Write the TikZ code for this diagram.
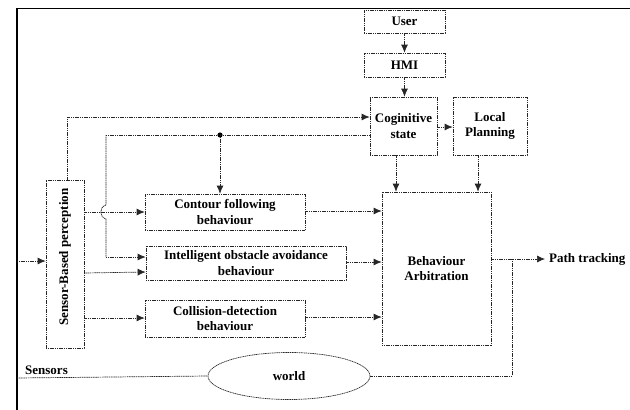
\documentclass[tikz,border=0pt]{standalone}
\usepackage{fontspec}
\setmainfont{Liberation Serif}
\usetikzlibrary{arrows.meta,shapes.geometric,calc}
\tikzset{
  ln/.style={line width=0.7pt, dash pattern=on 1.2pt off 0.6pt, draw=black!85},
  arr/.style={ln, -{Latex[length=8pt,width=7pt]}},
  box/.style={ln, rectangle, inner sep=1pt, align=center, font=\fontsize{13}{15.5}\selectfont\bfseries},
  lbl/.style={inner sep=1pt, font=\fontsize{13}{15.5}\selectfont\bfseries}
}
\begin{document}
\begin{tikzpicture}[x=1pt,y=-1pt]
\useasboundingbox (0,0) rectangle (630,410);
% frame
\draw[line width=1.8pt] (17,410) -- (17,8.5) -- (630,8.5);
% boxes
\node[box, minimum width=81pt, minimum height=23pt] (user) at (404.5,21.5) {User};
\node[box, minimum width=81pt, minimum height=24pt] (hmi) at (404.5,65) {HMI};
\node[box, minimum width=67pt, minimum height=58pt] (cog) at (403.5,126) {Coginitive\\state};
\node[box, minimum width=74pt, minimum height=58pt] (loc) at (490,126) {Local\\Planning};
\node[box, minimum width=109pt, minimum height=153pt] (arb) at (436.5,268.5) {Behaviour\\Arbitration};
\node[box, minimum width=38pt, minimum height=168pt] (sbp) at (65,264) {};
\node[lbl, rotate=90] (sbpt) at ([yshift=7pt]sbp.center) {Sensor-Based perception};
\node[box, minimum width=160pt, minimum height=36pt] (con) at (225,212) {Contour following\\behaviour};
\node[box, minimum width=200pt, minimum height=34pt] (ioa) at (246,263) {Intelligent obstacle avoidance\\behaviour};
\node[box, minimum width=160pt, minimum height=37pt] (col) at (225,318.5) {Collision-detection\\behaviour};
\node[ln, ellipse, minimum width=162pt, minimum height=47pt, inner sep=0pt, font=\fontsize{13}{15.5}\selectfont\bfseries] (world) at (289,376) {world};
% coordinates
\coordinate (c396) at (396,0);
\coordinate (c478) at (478,0);
\coordinate (j0) at (106,135);
\coordinate (dot) at (220,135);
\coordinate (h1) at (106,205);
\coordinate (h2) at (106,219);
\coordinate (j1) at (106,257);
\coordinate (in) at (17,261);
\coordinate (s0) at (17,378);
\coordinate (pt) at (545,259);
\coordinate (wr) at (512,259);
% top chain
\draw[arr] (user.south) -- (hmi.north);
\draw[arr] (hmi.south) -- (hmi.south |- cog.north);
\draw[arr] ([yshift=-1pt]cog.east) -- ([yshift=-1pt]loc.west);
\draw[arr] (c396 |- cog.south) -- (c396 |- arb.north);
\draw[arr] (c478 |- loc.south) -- (c478 |- arb.north);
% sensor perception to cognitive
\draw[arr] ([xshift=2pt]sbp.north) |- ([yshift=9pt]cog.west);
\draw[ln] (j0) -- (cog.west |- j0);
\fill (dot) circle (2.6pt);
\draw[arr] (dot) -- (dot |- con.north);
\draw[ln] (j0) -- (h1) .. controls (99,207) and (99,217) .. (h2) -- (j1);
\draw[arr] (j1) -- (ioa.west |- j1);
% perception to behaviours
\draw[arr] (sbp.east |- con.west) -- (con.west);
\draw[arr] ([yshift=-9pt]sbp.east) -- ([yshift=-9pt]ioa.west);
\draw[arr] ([yshift=-54pt]sbp.east) -- ([yshift=-54pt]sbp.east -| col.west);
% behaviours to arbitration
\draw[arr] ([yshift=1pt]con.east) -- ([yshift=1pt]con.east -| arb.west);
\draw[arr] ([yshift=1pt]ioa.east) -- ([yshift=1pt]ioa.east -| arb.west);
\draw[arr] ([yshift=1.5pt]col.east) -- ([yshift=1.5pt]col.east -| arb.west);
% output
\draw[arr] (arb.east |- pt) -- (pt);
\node[lbl, anchor=west] (ptl) at ([xshift=3pt]pt) {Path tracking};
\draw[ln] (world.east) -| (wr);
% input and sensors
\draw[arr] (in) -- (sbp.west |- in);
\draw[ln] (s0) -- (world.west);
\node[lbl, anchor=south west] (sens) at (24,376) {Sensors};
\end{tikzpicture}
\end{document}
